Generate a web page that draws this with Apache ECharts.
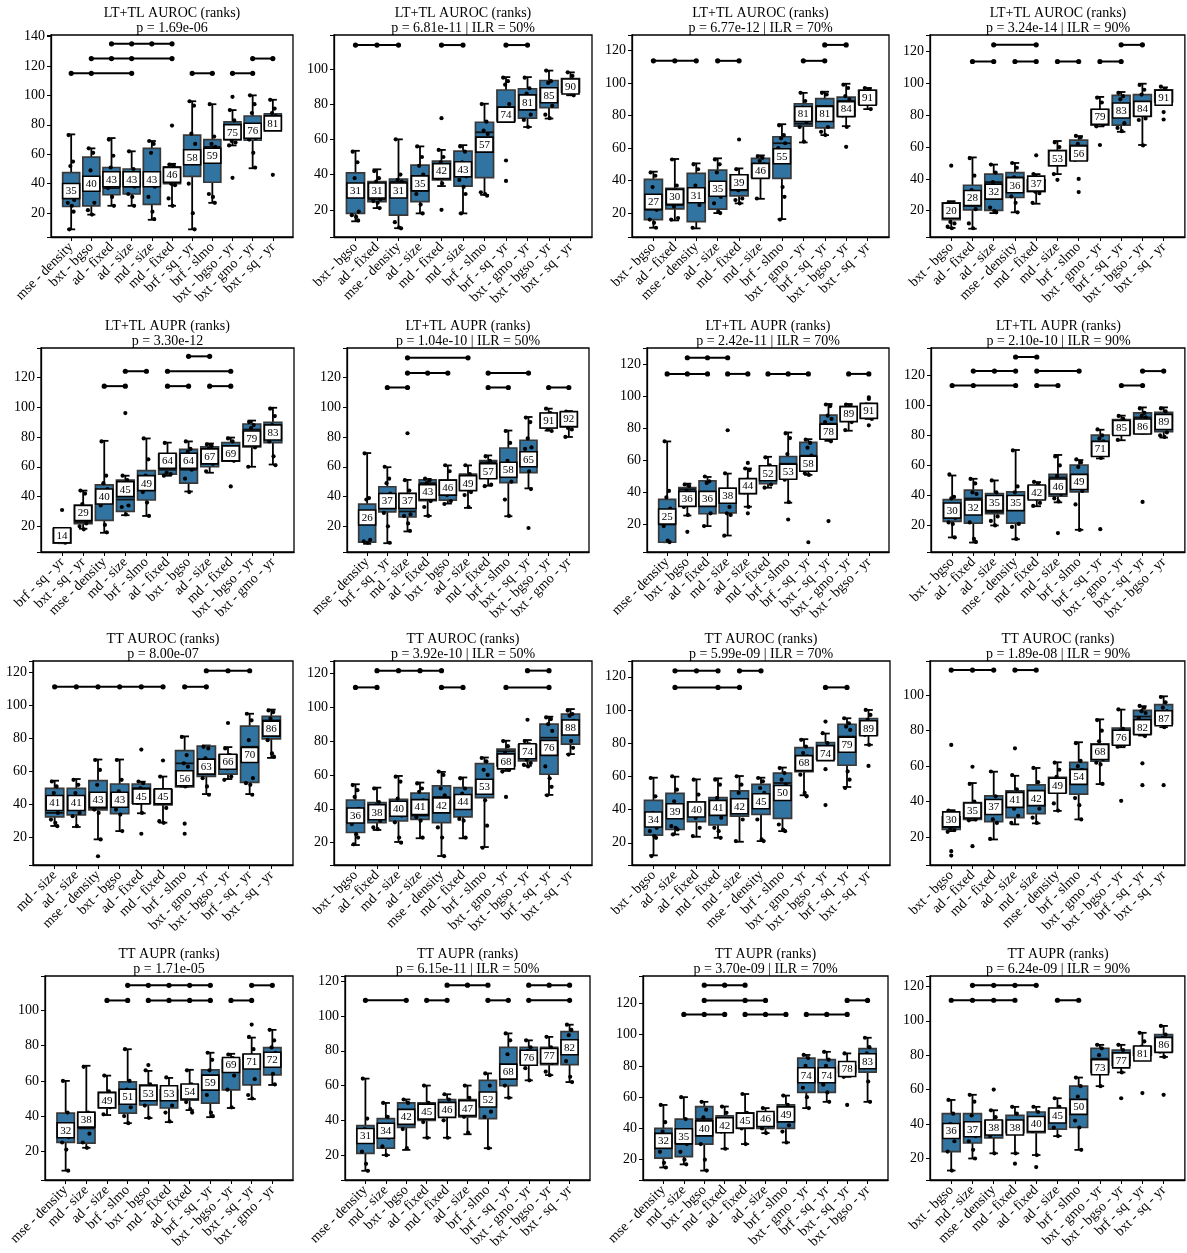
<!DOCTYPE html>
<html><head><meta charset="utf-8">
<script src="https://cdn.jsdelivr.net/npm/echarts@6.0.0/dist/echarts.min.js"></script>
<style>html,body{margin:0;padding:0;background:#fff}#c{width:1187px;height:1253px}</style>
</head><body><div id="c"></div>
<script>
// ---------------- DATA ----------------
const titles = [
 'LT+TL AUROC (ranks)','LT+TL AUROC (ranks)','LT+TL AUROC (ranks)','LT+TL AUROC (ranks)',
 'LT+TL AUPR (ranks)','LT+TL AUPR (ranks)','LT+TL AUPR (ranks)','LT+TL AUPR (ranks)',
 'TT AUROC (ranks)','TT AUROC (ranks)','TT AUROC (ranks)','TT AUROC (ranks)',
 'TT AUPR (ranks)','TT AUPR (ranks)','TT AUPR (ranks)','TT AUPR (ranks)'];
const pLines = [
 'p = 1.69e-06','p = 6.81e-11 | ILR = 50%','p = 6.77e-12 | ILR = 70%','p = 3.24e-14 | ILR = 90%',
 'p = 3.30e-12','p = 1.04e-10 | ILR = 50%','p = 2.42e-11 | ILR = 70%','p = 2.10e-10 | ILR = 90%',
 'p = 8.00e-07','p = 3.92e-10 | ILR = 50%','p = 5.99e-09 | ILR = 70%','p = 1.89e-08 | ILR = 90%',
 'p = 1.71e-05','p = 6.15e-11 | ILR = 50%','p = 3.70e-09 | ILR = 70%','p = 6.24e-09 | ILR = 90%'];
const categories = [
 ['mse - density','bxt - bgso','ad - fixed','ad - size','md - size','md - fixed','brf - sq - yr','brf - slmo','bxt - bgso - yr','bxt - gmo - yr','bxt - sq - yr'],
 ['bxt - bgso','ad - fixed','mse - density','ad - size','md - fixed','md - size','brf - slmo','brf - sq - yr','bxt - gmo - yr','bxt - bgso - yr','bxt - sq - yr'],
 ['bxt - bgso','ad - fixed','mse - density','ad - size','md - fixed','md - size','brf - slmo','bxt - gmo - yr','brf - sq - yr','bxt - bgso - yr','bxt - sq - yr'],
 ['bxt - bgso','ad - fixed','ad - size','mse - density','md - fixed','md - size','brf - slmo','bxt - gmo - yr','brf - sq - yr','bxt - bgso - yr','bxt - sq - yr'],
 ['brf - sq - yr','bxt - sq - yr','mse - density','md - size','brf - slmo','ad - fixed','bxt - bgso','ad - size','md - fixed','bxt - bgso - yr','bxt - gmo - yr'],
 ['mse - density','brf - sq - yr','md - size','ad - fixed','bxt - bgso','ad - size','md - fixed','brf - slmo','bxt - sq - yr','bxt - bgso - yr','bxt - gmo - yr'],
 ['mse - density','bxt - bgso','ad - fixed','md - size','ad - size','md - fixed','brf - slmo','brf - sq - yr','bxt - sq - yr','bxt - gmo - yr','bxt - bgso - yr'],
 ['bxt - bgso','ad - fixed','ad - size','mse - density','md - fixed','md - size','brf - slmo','brf - sq - yr','bxt - gmo - yr','bxt - sq - yr','bxt - bgso - yr'],
 ['md - size','ad - size','mse - density','bxt - bgso','ad - fixed','md - fixed','brf - slmo','bxt - gmo - yr','bxt - bgso - yr','brf - sq - yr','bxt - sq - yr'],
 ['bxt - bgso','ad - fixed','md - size','ad - size','mse - density','md - fixed','brf - slmo','bxt - gmo - yr','bxt - bgso - yr','brf - sq - yr','bxt - sq - yr'],
 ['bxt - bgso','ad - size','ad - fixed','md - fixed','md - size','mse - density','brf - slmo','bxt - gmo - yr','bxt - bgso - yr','brf - sq - yr','bxt - sq - yr'],
 ['bxt - bgso','ad - fixed','md - fixed','ad - size','md - size','mse - density','brf - slmo','bxt - gmo - yr','bxt - bgso - yr','brf - sq - yr','bxt - sq - yr'],
 ['mse - density','md - size','ad - size','brf - slmo','bxt - bgso','md - fixed','ad - fixed','brf - sq - yr','bxt - bgso - yr','bxt - sq - yr','bxt - gmo - yr'],
 ['mse - density','md - size','bxt - bgso','ad - fixed','md - fixed','ad - size','brf - slmo','brf - sq - yr','bxt - gmo - yr','bxt - bgso - yr','bxt - sq - yr'],
 ['mse - density','md - size','bxt - bgso','md - fixed','ad - fixed','ad - size','brf - slmo','bxt - gmo - yr','brf - sq - yr','bxt - sq - yr','bxt - bgso - yr'],
 ['bxt - bgso','md - size','mse - density','md - fixed','ad - fixed','ad - size','brf - slmo','bxt - gmo - yr','bxt - bgso - yr','brf - sq - yr','bxt - sq - yr']];
// [whisker low, q1, median, q3, whisker high]
const boxStats = [
 [[9,24.5,30,47.5,73.5],[19,25,44,58,64],[25,32.5,37,51,71],[25,33,38,50,62],[15.5,26,48,64,69],[25,40,50,51.5,53.5],[9,45,54,73,96],[27,41,65,70,94],[66,70,75,82,90],[50.5,69.5,72,86,100],[77,77,85,87.5,97]],
 [[13.5,18,34,41,53.5],[21,24.7,26,36,43],[9.6,17,36,37.5,60],[18,24.7,31,45.4,56],[33.5,37,42,47.7,54],[18,33.5,39,53.3,56.7],[28.5,38.3,64,69.7,80.2],[70.4,70.4,78,88,95.3],[67,72,78,88.7,95.3],[71.8,78,89,93.4,99],[85,86.8,90,94.4,98]],
 [[11,16,22,40.8,45.5],[15.5,22.6,25,35.3,53.3],[10.6,14.7,28,44.5,50.6],[20,22.4,31,46.5,53.7],[26,30.6,34,43.5,47.5],[28.8,42,50,53.7,55.5],[16.3,41.4,63,67,74.7],[63.5,73.5,75,87.3,94],[68,72.4,86,90.4,94.7],[73.5,79.6,89,91.4,99.6],[84,87,92,95.5,97]],
 [[9.2,14.4,16,25,26],[8.7,20.6,23,36,53.5],[18.5,20.2,38,43,49],[19,28.3,41,44,50],[24.4,32,35,39.4,43],[43,48.3,52,58,63.8],[52,52,61,64.4,66.9],[73,73.8,77,83.5,91.5],[69.6,73.8,84,92.5,94.6],[61.3,79.4,87,93,99.8],[88.3,88.3,93,96,97.5]],
 [[8.7,8.7,10,18.4,18.4],[18.4,21.8,23,34.3,44],[15.7,24,38,47.9,77.4],[27.5,30,38,51,54],[27,37.7,53,57.4,79],[54,55,58,68.3,76.2],[43.4,49,58,71.7,77],[56,60,72,73.3,75.6],[63.8,63.8,72,76.2,79.6],[60,73.3,85,88.7,91],[61.5,76.2,88,89.8,99.6]],
 [[8.3,9.4,22,34.9,69.2],[8.7,29.7,32,46.6,59.7],[16.6,26.3,30,42.1,51.2],[27,37.2,49,51.2,51.8],[35.3,37.6,41,51,60.9],[32.4,44.4,52,55,60.9],[47.3,52.3,63,64.2,67.6],[26.8,49.3,53,72.6,84.3],[45.5,56,62,77.8,93.4],[84.3,86.1,90,95.8,99],[80,86.8,93,96.3,97.4]],
 [[8.9,8.9,20,35.7,71.9],[25.6,31.5,42,43,45.5],[19,26.7,32,47.2,49.7],[13.1,27.3,34,42.6,51.8],[31.1,39.5,41,48.3,55],[43,45.5,48,56.6,62.3],[33.6,49.3,58,62.5,77.5],[51,54.1,63,71.3,73.3],[72.3,73.8,83,88.4,95.3],[78.6,85.5,90,93.6,95.3],[86,86.5,92,95,95.5]],
 [[12,22.7,25,37.2,53.3],[8.6,21.6,38,43.5,51.1],[20,27.8,29,41.3,50],[10.8,21.6,30,42.4,70.3],[32.8,37.9,40,46.2,48.9],[35.4,39.5,52,54,67],[17.1,42.4,54,60.3,63.6],[64.7,66.3,76,80.2,83.8],[76.8,80.9,88,90.5,93.2],[81.3,81.3,92,95,98.7],[78.6,82.6,94,95.4,98.7]],
 [[27.1,32.6,35,49.8,54.5],[26.5,33.8,44,49.8,55.5],[19,36.8,38,54.5,67.3],[24,34.6,47,52.5,67.3],[34.8,40.9,50,52.5,53.9],[29.1,39.9,41,49,57],[50.8,50.8,65,72.7,81.3],[46.4,57.1,60,75.4,75.8],[55.5,58.5,62,70.1,74.8],[46.4,53.5,75,87.5,95],[68.3,79.8,91,93.4,97.5]],
 [[18.6,26,40,45.2,54.5],[27.5,31.8,34,43.7,52.5],[20.4,32.8,36,45.6,59.4],[22.6,33.8,36,49.2,55.5],[12.1,31.8,47,53.5,61.8],[22.6,35.2,40,52.5,58.5],[17.4,46.6,50,66.7,70.3],[62.4,65.4,74,75.2,80.2],[65.4,68.3,70,77.8,80.6],[48.2,60.4,82,90,94.4],[72.3,78.2,84,95.9,98.9]],
 [[12.4,24.6,38,45.5,59.2],[25,28,43,49.8,59.8],[23.6,32.7,38,44.7,58.2],[23,30.7,37,47.2,58.8],[20.6,36.1,38,51.2,60.2],[21,37.1,49,55.2,59.2],[27,34.7,56,61.9,65.3],[48.6,62.9,64,77.3,82.4],[70.3,70.3,78,80.4,85.8],[53.6,66.7,84,91.4,95],[79,85,92,94.8,100]],
 [[23.4,24.4,26,31.4,35.2],[29.5,30,31,39.5,50.5],[18.7,28.7,33,43.3,56.9],[27.2,31,37,46.1,54.6],[27.8,33.3,38,49.5,59],[34.8,45.2,47,53.7,62.2],[30,44.2,58,62.2,73.5],[49.9,62.8,64,72.6,86.4],[70.7,72.2,80,81.5,91.9],[77.3,78.3,88,91.5,93.8],[82,83.9,91,94.7,99.4]],
 [[9,25.1,29,41.7,60],[22,24.6,33,41.7,68.6],[40.6,44.6,47,53.7,63],[36,41.7,55,59.4,78],[38.9,46.3,53,57.7,65.7],[36.6,44.6,50,54.9,61.7],[43.4,49.1,55,57.7,66.3],[39.4,47.4,57,66.3,76],[44.6,54.9,68,72,75.4],[49.7,57.7,71,74.9,84.6],[57.7,63.4,74,78.9,89]],
 [[11,21,28,37,64],[20,24,32,41,50],[23,36,40,50,52],[30,40,45,50,60],[30,43,48,52,55],[32,42,48,52,60],[24,41,50,63,67],[53,60,68,82,90],[63,73,77,82,86],[66,72,75,82,88],[62,72,86,91,95]],
 [[15,21,28,40,55],[17,22,30,46,60],[13,30,46,54,57],[27,38,42,48,54],[30,40,42,50,62],[37,40,43,49,53],[31,40,46,55,61],[53,63,73,85,87],[57,63,77,84,89],[73,76,79,80,88],[57,76,86,91,98]],
 [[13,24,36,46,54],[20,29,36,46,57],[23,32,37,42,48],[23,35,38,45,50],[22,35,38,47,50],[33,37,44,49,55],[25,38,48,62,67],[62,70,78,84,86],[70,74,80,83,86],[78,80,83,85,93],[79,82,89,92,97]]];
const meanRanks = [
 [35,40,43,43,43,46,58,59,75,76,81],
 [31,31,31,35,42,43,57,74,81,85,90],
 [27,30,31,35,39,46,55,81,81,84,91],
 [20,28,32,36,37,53,56,79,83,84,91],
 [14,29,40,45,49,64,64,67,69,79,83],
 [26,37,37,43,46,49,57,58,65,91,92],
 [25,36,36,38,44,52,53,58,78,89,91],
 [30,32,35,35,42,46,49,71,85,86,89],
 [41,41,43,43,45,45,56,63,66,70,86],
 [36,38,40,41,42,44,53,68,74,76,88],
 [34,39,40,41,42,45,50,68,74,79,89],
 [30,35,37,41,42,49,54,68,76,82,87],
 [32,38,49,51,53,53,54,59,69,71,72],
 [31,34,42,45,46,47,52,68,76,77,82],
 [32,35,40,42,45,46,49,74,74,78,83],
 [36,37,38,38,40,45,50,73,77,81,86]];
const points = [
 [[73,55,52,29,27,25,21,9],[64,61,49,27,22,19],[70,59,51,47,37,31,25],[62,50,45,38,33,31,25],[69,67,61,38,31,21,16],[53,52,40,39,30,25],[96,93,74,67,40,20,9],[94,72,67,65,33,31,27],[90,83,69,68,66],[100,94,88,71,70,61,51],[97,91,88,86,77]],
 [[53,47,38,19,17,16,14],[42,38,36,26,25,24,21],[60,40,37,36,13,10,9.5],[56,50,45,40,29,23,18],[54,50,47,42,38,35],[56,53,47,39,37,33,29,18],[80,70,65,63,30,29,28],[95,93,91,80,74],[95,89,86,74,71,67],[99,93,92,79,74,72],[98,96,92,85]],
 [[45,43,36,22,16,14,11],[53,37,24,17,16],[50,47,37,25,11],[53,50,45,30,26,21,20],[47,43,34,29,28,26],[55,54,52,50,29],[74,68,66,63,60,36,30,16],[94,89,85,76,73,64],[94,93,80,73,70,68],[99,97,92,90,80,73],[97,96,88,84]],
 [[25,24,13,12,10,9],[53,42,33,21,12,9],[49,44,38,31,22,20,19],[50,47,41,36,29,25,19],[43,40,32,31,25],[63,60,57,53,43],[67,66,62,57,52],[91,88,80,74,73],[94,92,90,75,72,70],[99,96,93,78,77,61],[98,96,93,89]],
 [[18,12,10,9],[44,42,35,22,20,18],[77,54,49,45,34,21,16],[54,51,45,34,33,28],[79,65,54,49,43,36,27],[76,64,56,55,54],[77,72,70,58,52,43],[75,74,72,62,57],[79,77,73,64],[90,88,86,73,60],[99,94,88,86,77,67,61]],
 [[69,39,38,11,10,9],[60,52,49,42,29,20,9],[51,44,35,28,27,22,17],[52,51,49,37,33,27],[61,57,41,37,35],[61,55,52,43,41,33],[67,64,62,48,47],[84,76,64,50,38,27],[93,90,79,73,72,57,45],[99,96,85,84],[97,96,86,85,80]],
 [[72,41,37,30,19,10,9],[45,44,41,40,31,26],[50,47,46,27,19],[52,31,27,26,13],[55,54,48,44,40,31],[62,57,55,45,43],[77,74,64,50,48,34],[73,71,68,63,52,51],[95,94,88,86,84,73,72],[95,94,86,84,79],[95,93,88,86]],
 [[54,39,38,25,22,21,12],[51,48,42,41,22,11,9],[50,42,33,26,23,20],[70,46,42,21,19,11],[49,47,38,35,33],[66,60,53,41,38,36],[64,62,59,43,34,17],[84,80,78,76,67,65],[93,91,89,82,77],[98,95,93,92,88,82],[98,96,90,82,80,79]],
 [[54,51,47,35,31,29,27],[55,52,47,35,33,27],[67,61,52,43,37,35,19],[67,55,48,42,37,34,24],[54,53,50,45,41,35],[57,48,42,38,30,29],[81,70,65,63,52,51],[75,74,68,62,56,51,46],[74,70,62,57,55],[95,91,79,56,53,52,46],[97,96,92,90,79,71,69]],
 [[54,51,47,40,31,25,23,19],[52,44,42,33,29,28],[59,56,46,36,32,23,20],[55,52,50,45,35,33,23],[62,60,52,48,29,23,12],[58,52,49,44,34,33,23],[70,68,63,60,50,45,30,17],[80,77,73,63,62],[80,78,69,67,66,65],[94,93,90,86,65,58,53,48],[98,96,95,92,88,80,76,72]],
 [[59,48,38,29,27,24,23,12],[60,52,45,40,30,29,28,25],[58,49,35,29,24],[58,55,47,35,29,27,23],[60,55,50,34,21],[59,57,53,50,34,22,21],[65,62,58,55,31,28,27],[82,78,74,72,61,50,48],[86,80,76,74,71],[95,92,90,88,78,63,58,53],[100,97,94,91,85,79]],
 [[35,31,25,24,23],[50,40,31,30,29.5],[57,43,30,28,19],[55,47,36,32,28],[59,51,42,36,31,28],[62,58,54,49,39,35],[73,63,60,58,42,38,30],[86,80,74,64,62,61,50],[92,81,80,72,71],[94,93,91,90,87,78,77],[99,96,93,91,84,82]],
 [[60,42,35,28,25,21,9],[68,42,35,30,25,22],[63,54,50,45,41],[78,60,55,45,40,36],[66,58,55,50,46,39],[62,56,52,46,42,37],[66,58,55,52,48,44,42],[76,72,66,62,52,42,40],[75,73,70,63,55,45],[85,78,70,61,52,50],[89,83,79,76,70,64,58]],
 [[64,41,35,30,22,15,11],[50,42,35,30,25,20],[52,50,44,40,35,24],[60,50,46,43,39,30],[55,52,49,44,40,30],[60,53,48,46,42,33],[67,60,52,45,42,24],[90,86,78,66,60,53],[86,82,80,75,70,63],[88,82,76,73,68,66],[95,92,89,84,74,65,62]],
 [[55,44,38,30,25,18,15],[60,46,38,30,25,20,17],[57,52,47,40,30,20,13],[54,50,44,42,38,27],[62,50,45,42,40,30],[53,49,45,42,40,37],[61,55,48,42,38,31],[87,85,80,74,66,60,53],[89,84,80,76,68,63,57],[88,80,78,76,73],[98,92,88,84,79,70,57]],
 [[54,46,40,30,24,13],[57,53,45,33,30,25,20],[48,44,40,36,33,23],[50,46,40,37,35,23],[50,47,42,38,36,22],[55,50,47,43,38,33],[67,62,56,48,42,38,25],[86,84,80,75,70,62],[86,83,80,76,74,70],[93,88,85,83,80,78],[97,92,90,87,82,79]]];
const outliers = [
 [[],[],[],[],[],[79.5],[],[],[99,44],[],[46]],
 [[],[],[],[],[72,20],[],[],[48,36.4],[],[],[]],
 [[],[],[],[],[65.3],[],[],[],[],[60.8],[]],
 [[48.3],[],[],[],[54.8],[39.4],[40,31.7],[61.3],[],[],[82,77.3]],
 [[31],[],[],[96],[],[],[],[],[46.8],[],[]],
 [[],[],[82.5],[],[],[],[],[],[18.9],[],[]],
 [[],[15.4],[],[78.9],[58.5,27],[],[23.1],[8.9],[22.1],[],[99.5,98.5,82]],
 [[],[],[],[],[],[14.9],[],[17.5],[],[35.7],[]],
 [[],[],[8.8],[],[73.3,22.4],[66.7],[28.5,22.4],[],[89.4],[],[]],
 [[],[],[],[],[],[],[],[47],[92.6],[],[]],
 [[],[],[],[],[],[],[],[],[93,64.3,42.7],[],[66.3]],
 [[72,12.1,9.6],[59.7,14.9],[],[70.1],[],[],[],[],[40.5],[61.6,49.3],[49.3]],
 [[],[],[],[],[69],[],[],[],[],[92],[]],
 [[],[],[],[],[],[],[],[],[],[],[]],
 [[],[],[],[],[],[],[],[],[],[55],[]],
 [[],[],[60],[17],[15],[],[],[],[55],[58],[57]]];
// significance cliques: [level, [member indices]]
const sigBars = [
 [[115,[0,1,3]],[115,[6,7]],[115,[8,9]],[125,[1,2,3,5]],[125,[9,10]],[135,[2,3,4,5]]],
 [[113.5,[0,1,2]],[113.5,[4,5]],[113.5,[7,8]]],
 [[113.7,[0,1,2]],[113.7,[3,4]],[113.7,[7,8]],[123.5,[8,9]]],
 [[113.75,[1,2]],[113.75,[3,4]],[113.75,[5,6]],[113.75,[7,8]],[124.2,[2,4]],[124.2,[8,9]]],
 [[114.1,[2,3]],[114.1,[5,6]],[114.1,[7,8]],[124.1,[3,4]],[124.1,[5,8]],[134.1,[6,7]]],
 [[113.2,[1,2]],[113.2,[6,7]],[113.2,[9,10]],[122.9,[2,3,4]],[122.9,[6,8]],[133.1,[2,5]]],
 [[114.1,[0,1,2]],[114.1,[3,4]],[114.1,[5,6,7]],[114.1,[9,10]],[124.2,[1,2,3]]],
 [[113.3,[0,1,3]],[113.3,[4,5]],[113.3,[8,9]],[122.9,[1,2,3]],[122.9,[4,6]],[122.9,[9,10]],[132.3,[3,4]]],
 [[111.3,[0,1,2,3,4,5]],[111.3,[6,7]],[121,[7,8,9]]],
 [[111.7,[0,1]],[111.7,[4,5]],[111.7,[7,9]],[121.6,[1,2,3,4]],[121.6,[8,9]]],
 [[113.6,[1,3,4]],[113.6,[8,9]],[123.6,[1,2,3]],[123.6,[4,5]]],
 [[114.2,[0,1,2]],[114.2,[3,4]]],
 [[105.7,[2,3]],[105.7,[4,5,6,7]],[105.7,[8,9]],[114.3,[3,4,5,6,7]],[114.3,[9,10]]],
 [[109,[0,2]],[109,[3,4]],[109,[6,7]],[109,[8,10]],[117.7,[4,5,6]],[117.7,[8,9,10]]],
 [[112.9,[1,2,3]],[112.9,[4,5,6]],[112.9,[7,8,9]],[121.9,[2,4,5]],[121.9,[9,10]],[131.6,[2,3,4]]],
 [[111.9,[0,1,2,3]],[111.9,[5,6]],[120.6,[1,2,3,4]]]];
const yRanges = [
 [3.8,141],[4.6,119.2],[5.3,129.6],[3.5,130.4],
 [2.8,139.7],[2.8,139.7],[2.8,130.3],[2.3,138.3],
 [3.5,126.9],[6.8,127.3],[6.6,129.5],[4.3,119.3],
 [3.7,119.6],[5.7,123],[7,137.5],[7.5,126]];
const yTickStep = 20;

// ---------------- LAYOUT / STYLE ----------------
const FONT = '"Liberation Serif","Times New Roman",serif';
const BOX_FILL = '#3274a1';
const rowFrames = [[35,237],[348,552],[661,865],[976,1180]];
const colFrames = [
 [[51,293],[334,592],[632,889],[930,1186]],
 [[41,294],[347,589],[647,889],[931,1186]],
 [[33,293],[334,592],[632,890],[930,1186]],
 [[45,293],[345,590],[643,888],[930,1186]]];
const jitter = [-0.13,0.09,-0.04,0.15,-0.17,0.03,0.12,-0.09,0.17,-0.01];

function makeBoxRenderer(p) {
  return function (params, api) {
    const i = params.dataIndex;
    const s = boxStats[p][i];
    const xi = i + 1;
    const bw = api.size([1, 0])[0];
    const pt = v => api.coord([xi, v]);
    const x = pt(s[2])[0];
    const yMin = pt(s[0])[1], yQ1 = pt(s[1])[1], yMed = pt(s[2])[1], yQ3 = pt(s[3])[1], yMax = pt(s[4])[1];
    const hw = bw * 0.42, cw = bw * 0.2;
    const ls = { stroke: '#000', lineWidth: 1.8 };
    const ch = [];
    ch.push({ type: 'line', shape: { x1: x, y1: yQ3, x2: x, y2: yMax }, style: ls });
    ch.push({ type: 'line', shape: { x1: x, y1: yQ1, x2: x, y2: yMin }, style: ls });
    ch.push({ type: 'line', shape: { x1: x - cw, y1: yMax, x2: x + cw, y2: yMax }, style: ls });
    ch.push({ type: 'line', shape: { x1: x - cw, y1: yMin, x2: x + cw, y2: yMin }, style: ls });
    ch.push({ type: 'rect', shape: { x: x - hw, y: yQ3, width: 2 * hw, height: Math.max(yQ1 - yQ3, 0.5) },
      style: { fill: BOX_FILL, stroke: '#383838', lineWidth: 1.7 } });
    ch.push({ type: 'line', shape: { x1: x - hw, y1: yMed, x2: x + hw, y2: yMed }, style: { stroke: '#111', lineWidth: 1.8 } });
    points[p][i].forEach((v, k) => {
      const c = pt(v);
      ch.push({ type: 'circle', shape: { cx: c[0] + jitter[k % jitter.length] * bw, cy: c[1], r: 2.1 }, style: { fill: '#000' } });
    });
    outliers[p][i].forEach(v => {
      const c = pt(v);
      ch.push({ type: 'circle', shape: { cx: c[0], cy: c[1], r: 2.1 }, style: { fill: '#000' } });
    });
    const ym = pt(meanRanks[p][i])[1];
    ch.push({ type: 'rect', shape: { x: x - 8.5, y: ym - 7.5, width: 17, height: 15 }, style: { fill: '#fff', stroke: '#000', lineWidth: 1.6 } });
    ch.push({ type: 'text', style: { text: String(meanRanks[p][i]), x: x, y: ym + 0.5, align: 'center', verticalAlign: 'middle',
      textAlign: 'center', textVerticalAlign: 'middle', font: '11px ' + FONT, fill: '#000' } });
    return { type: 'group', children: ch };
  };
}

function makeSigRenderer(p) {
  return function (params, api) {
    const b = sigBars[p][params.dataIndex];
    const lvl = b[0], idx = b[1];
    const a = api.coord([Math.min(...idx) + 1, lvl]);
    const z = api.coord([Math.max(...idx) + 1, lvl]);
    const ch = [{ type: 'line', shape: { x1: a[0], y1: a[1], x2: z[0], y2: z[1] }, style: { stroke: '#000', lineWidth: 2 } }];
    idx.forEach(k => {
      const c = api.coord([k + 1, lvl]);
      ch.push({ type: 'circle', shape: { cx: c[0], cy: c[1], r: 2.6 }, style: { fill: '#000' } });
    });
    return { type: 'group', children: ch };
  };
}

const option = { animation: false, backgroundColor: '#fff', title: [], grid: [], xAxis: [], yAxis: [], series: [] };
for (let p = 0; p < 16; p++) {
  const r = Math.floor(p / 4), c = p % 4;
  const [top, bottom] = rowFrames[r];
  const [left, right] = colFrames[r][c];
  option.grid.push({ left: left, top: top, width: right - left, height: bottom - top, show: true,
    borderColor: '#000', borderWidth: 1.3, backgroundColor: 'rgba(0,0,0,0)' });
  option.title.push({ text: titles[p] + '\n' + pLines[p], left: (left + right) / 2, top: top - 29.5, textAlign: 'center', padding: 0,
    textStyle: { fontFamily: FONT, fontSize: 14, fontWeight: 'normal', color: '#000', lineHeight: 15 } });
  option.xAxis.push({ type: 'category', gridIndex: p, data: [''].concat(categories[p], ['']), boundaryGap: false,
    axisLine: { show: true, lineStyle: { color: '#000', width: 1.3 } },
    axisTick: { show: true, length: 4, lineStyle: { color: '#000', width: 1 }, interval: (k) => k > 0 && k < 12 },
    axisLabel: { interval: 0, rotate: 45, margin: 8, fontFamily: FONT, fontSize: 14, color: '#000' },
    splitLine: { show: false } });
  option.yAxis.push({ type: 'value', gridIndex: p, min: yRanges[p][0], max: yRanges[p][1], minInterval: yTickStep, maxInterval: yTickStep,
    axisLine: { show: true, lineStyle: { color: '#000', width: 1.3 } },
    axisTick: { show: true, length: 4, lineStyle: { color: '#000', width: 1 } },
    axisLabel: { fontFamily: FONT, fontSize: 14, color: '#000', margin: 6,
      formatter: v => (Math.abs(v / yTickStep - Math.round(v / yTickStep)) < 1e-6 ? String(Math.round(v)) : '') },
    splitLine: { show: false } });
  option.series.push({ type: 'custom', xAxisIndex: p, yAxisIndex: p, clip: false, z: 3,
    data: categories[p].map((_, i) => [i + 1, boxStats[p][i][2]]), renderItem: makeBoxRenderer(p) });
  option.series.push({ type: 'custom', xAxisIndex: p, yAxisIndex: p, clip: false, z: 4,
    data: sigBars[p].map(b => [Math.min(...b[1]) + 1, b[0]]), renderItem: makeSigRenderer(p) });
}
const chart = echarts.init(document.getElementById('c'), null, { renderer: 'canvas' });
chart.setOption(option);
</script>
</body></html>
